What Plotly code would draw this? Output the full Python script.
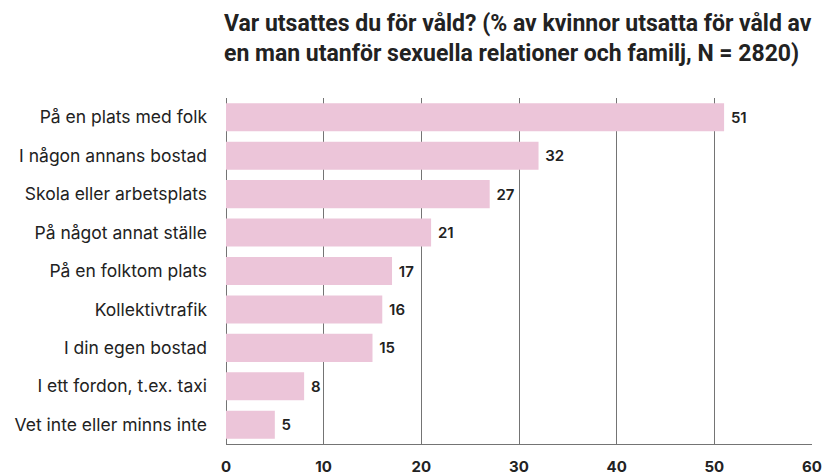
import plotly.graph_objects as go

categories = [
    "På en plats med folk",
    "I någon annans bostad",
    "Skola eller arbetsplats",
    "På något annat ställe",
    "På en folktom plats",
    "Kollektivtrafik",
    "I din egen bostad",
    "I ett fordon, t.ex. taxi",
    "Vet inte eller minns inte",
]
values = [51, 32, 27, 21, 17, 16, 15, 8, 5]
tick_vals = [0, 10, 20, 30, 40, 50, 60]

title_text = ("Var utsattes du för våld? (% av kvinnor utsatta för våld av<br>"
              "en man utanför sexuella relationer och familj, N = 2820)")

fig = go.Figure(go.Bar(
    y=categories,
    x=values,
    orientation="h",
    marker=dict(color="#ecc5d9", line=dict(width=0)),
    width=0.73,
    text=[" " + str(v) for v in values],
    textposition="outside",
    cliponaxis=False,
    textfont=dict(family="Inter", size=15, color="#222222", weight=600),
))

fig.update_layout(
    width=825, height=476,
    paper_bgcolor="white", plot_bgcolor="white",
    margin=dict(l=226, r=13, t=98, b=32, autoexpand=False),
    showlegend=False,
    annotations=[dict(
        text=title_text, xref="paper", yref="paper", x=0, y=1.2601,
        xanchor="left", yanchor="top", align="left", showarrow=False,
        xshift=-4,
        font=dict(family="Roboto", size=23, color="#222222", weight="bold"),
    )],
)
fig.update_xaxes(
    range=[0, 60], tickvals=tick_vals, ticktext=[str(t) for t in tick_vals],
    showgrid=True, gridcolor="#747474", gridwidth=1,
    zeroline=True, zerolinecolor="#747474", zerolinewidth=1,
    showline=True, linecolor="#747474", linewidth=1,
    tickfont=dict(family="Inter", size=15, color="#222222", weight="bold"),
    ticks="", ticklabelstandoff=9, fixedrange=True, automargin=False,
)
fig.update_yaxes(
    autorange="reversed", categoryorder="array", categoryarray=categories,
    showgrid=False, zeroline=False, showline=False,
    tickfont=dict(family="Inter", size=17.5, color="#222222"),
    ticks="", ticklabelstandoff=18, automargin=False, fixedrange=True,
)

fig.write_html(
    "out.html",
    config={"displayModeBar": False},
    post_script="document.body.style.margin='0';document.body.style.overflow='hidden';",
)
